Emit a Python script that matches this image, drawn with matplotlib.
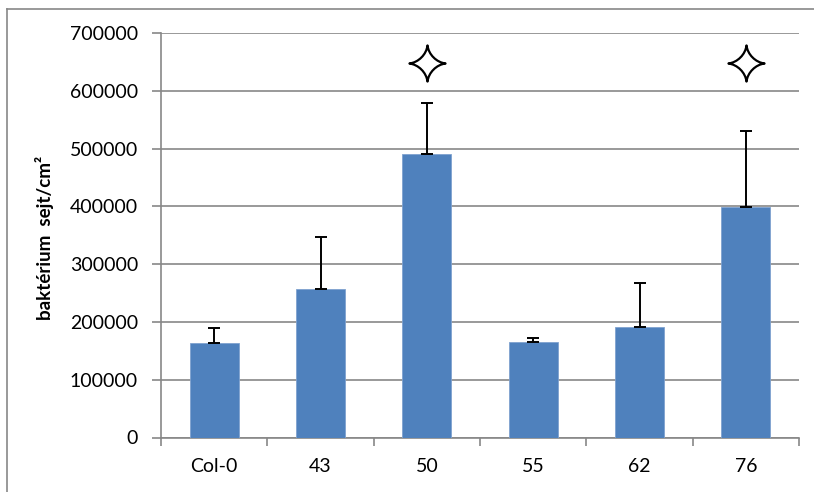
import matplotlib
matplotlib.use("Agg")
import matplotlib.pyplot as plt
from matplotlib.path import Path
from matplotlib.lines import Line2D

# data
lines = ['Col-0', '43', '50', '55', '62', '76']
cells = [164000, 257500, 491000, 164500, 191000, 398500]
err_up = [26000, 90000, 87000, 7500, 77000, 132500]
signif = [False, False, True, False, False, True]
star_level = 648000

plt.rcParams['font.family'] = ['Lato', 'DejaVu Sans']

fig = plt.figure(figsize=(8.14, 4.92), dpi=100)
ax = fig.add_axes([161 / 814, 1 - 437.5 / 492, 638 / 814, (437.5 - 33) / 492])

x = list(range(len(lines)))
ax.bar(x, cells, width=0.46, color='#4F81BD', edgecolor='#7FA2CF', linewidth=0.6, zorder=3)
ax.errorbar(x, cells, yerr=[[0] * len(x), err_up], fmt='none', ecolor='black',
            elinewidth=1.4, capsize=4.5, capthick=1.4, zorder=4)

# four point star over significant lines
verts = [(0, 1), (0.06, 0.5), (0.5, 0.06), (1, 0),
         (0.5, -0.06), (0.06, -0.5), (0, -1),
         (-0.06, -0.5), (-0.5, -0.06), (-1, 0),
         (-0.5, 0.06), (-0.06, 0.5), (0, 1), (0, 1)]
codes = [Path.MOVETO] + [Path.CURVE4] * 12 + [Path.CLOSEPOLY]
star = Path(verts, codes)
sx = [i for i, s in zip(x, signif) if s]
ax.plot(sx, [star_level] * len(sx), linestyle='none', marker=star, markersize=26,
        markerfacecolor='white', markeredgecolor='black', markeredgewidth=1.6, zorder=5)

ax.set_xlim(-0.5, len(lines) - 0.5)
ax.set_ylim(0, 700000)
ax.set_yticks(range(0, 700001, 100000))
ax.set_yticklabels([str(v) for v in range(0, 700001, 100000)])
ax.yaxis.grid(True, color='#878787', linewidth=1.2, zorder=0)

ax.set_xticks([i - 0.5 for i in range(len(lines) + 1)])
ax.set_xticklabels([])
ax.set_xticks(x, minor=True)
ax.set_xticklabels(lines, minor=True)
ax.tick_params(axis='x', which='major', length=6, width=1.2, color='#878787', direction='out')
ax.tick_params(axis='x', which='minor', length=0, pad=15, labelsize=14)
ax.tick_params(axis='y', length=6.5, width=1.2, color='#878787', pad=10, labelsize=14)

for side in ['top', 'right']:
    ax.spines[side].set_visible(False)
for side in ['left', 'bottom']:
    ax.spines[side].set_color('#878787')
    ax.spines[side].set_linewidth(1.2)

fig.text(45 / 814, 1 - 238 / 492, 'baktérium  sejt/cm²', rotation=90, ha='center', va='center',
         fontsize=13.5, fontweight='bold')

# outer chart border (top and left edges visible)
fig.add_artist(Line2D([7 / 814, 7 / 814], [0, 1 - 9 / 492], transform=fig.transFigure,
                      color='#878787', linewidth=1.2))
fig.add_artist(Line2D([7 / 814, 1], [1 - 9 / 492, 1 - 9 / 492], transform=fig.transFigure,
                      color='#878787', linewidth=1.2))

fig.savefig('out.png', dpi=100)
